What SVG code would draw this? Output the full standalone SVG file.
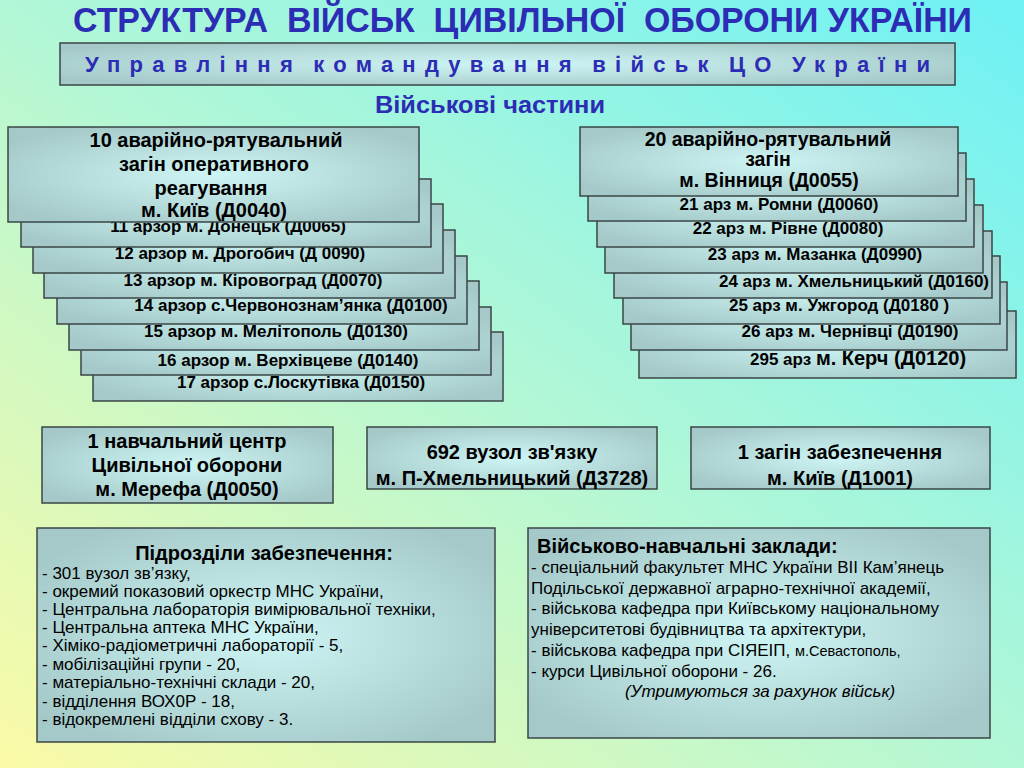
<svg xmlns="http://www.w3.org/2000/svg" width="1024" height="768" viewBox="0 0 1024 768">
<defs>
<linearGradient id="bg" x1="0" y1="1" x2="1" y2="0">
<stop offset="0" stop-color="#fbfaa6"/>
<stop offset="0.5" stop-color="#b2f7d6"/>
<stop offset="1" stop-color="#6ef1f5"/>
</linearGradient>
<radialGradient id="boxg" cx="0.5" cy="0.5" r="0.6">
<stop offset="0" stop-color="#cef5f5"/>
<stop offset="1" stop-color="#a5c9c9"/>
</radialGradient>
<style>
.box{fill:url(#boxg);stroke:#3a4545;stroke-width:1.5}
.t{font-family:"Liberation Sans",Arial,sans-serif;fill:#000}
.b{font-weight:bold}
.s17{font-size:17px}
.s20{font-size:20px}
.m{text-anchor:middle}
.blue{fill:#2c2cb4;font-family:"Liberation Sans",Arial,sans-serif;font-weight:bold}
.li{font-family:"Liberation Sans",Arial,sans-serif;font-size:17px;fill:#000}
</style>
</defs>
<rect x="0" y="0" width="1024" height="768" fill="url(#bg)"/>

<g id="title">
<text class="blue" x="73" y="32" font-size="35" textLength="899" lengthAdjust="spacingAndGlyphs" xml:space="preserve">СТРУКТУРА  ВІЙСЬК  ЦИВІЛЬНОЇ  ОБОРОНИ УКРАЇНИ</text>
</g>

<g id="command">
<rect class="box" x="60" y="43" width="895" height="42"/>
<text class="blue" x="85" y="72" font-size="22" fill="#1e1ec0" word-spacing="-4" textLength="845" lengthAdjust="spacing">Управління командування військ ЦО України</text>
</g>

<g id="units-label">
<text class="blue" x="375" y="113" font-size="24" textLength="230" lengthAdjust="spacingAndGlyphs">Військові частини</text>
</g>

<g id="left-stack">
<g id="n17"><rect class="box" x="93" y="332" width="410" height="69"/><text class="t b s17 m" x="301" y="388">17 арзор с.Лоскутівка (Д0150)</text></g>
<g id="n16"><rect class="box" x="81" y="307" width="410" height="68"/><text class="t b s17 m" x="288" y="366">16 арзор м. Верхівцеве (Д0140)</text></g>
<g id="n15"><rect class="box" x="69" y="281" width="410" height="69"/><text class="t b s17 m" x="276" y="337">15 арзор м. Мелітополь (Д0130)</text></g>
<g id="n14"><rect class="box" x="57" y="256" width="410" height="68"/><text class="t b s17 m" x="291" y="311">14 арзор с.Червонознам’янка (Д0100)</text></g>
<g id="n13"><rect class="box" x="44" y="230" width="411" height="68"/><text class="t b s17 m" x="253" y="286">13 арзор м. Кіровоград (Д0070)</text></g>
<g id="n12"><rect class="box" x="33" y="204" width="410" height="69"/><text class="t b s17 m" x="240" y="259">12 арзор м. Дрогобич (Д 0090)</text></g>
<g id="n11"><rect class="box" x="21" y="179" width="410" height="68"/><text class="t b s17 m" x="228" y="232">11 арзор м. Донецьк (Д0065)</text></g>
<g id="n10"><rect class="box" x="8" y="127" width="411" height="95"/>
<text class="t b s20 m" x="216" y="147">10 аварійно-рятувальний</text>
<text class="t b s20 m" x="214" y="171">загін оперативного</text>
<text class="t b s20 m" x="211" y="195">реагування</text>
<text class="t b s20 m" x="214" y="217">м. Київ (Д0040)</text></g>
</g>

<g id="right-stack">
<g id="n295"><rect class="box" x="639" y="311" width="377" height="67"/><text class="t b" x="750" y="365"><tspan font-size="17">295 арз </tspan><tspan font-size="20">м. Керч (Д0120)</tspan></text></g>
<g id="n26"><rect class="box" x="631" y="282" width="376" height="68"/><text class="t b s17 m" x="850" y="337">26 арз м. Чернівці (Д0190)</text></g>
<g id="n25"><rect class="box" x="623" y="256" width="377" height="68"/><text class="t b s17 m" x="839" y="311">25 арз м. Ужгород (Д0180 )</text></g>
<g id="n24"><rect class="box" x="614" y="231" width="378" height="67"/><text class="t b s17 m" x="854" y="287">24 арз м. Хмельницький (Д0160)</text></g>
<g id="n23"><rect class="box" x="605" y="205" width="378" height="68"/><text class="t b s17 m" x="815" y="260">23 арз м. Мазанка (Д0990)</text></g>
<g id="n22"><rect class="box" x="597" y="179" width="377" height="68"/><text class="t b s17 m" x="788" y="234">22 арз м. Рівне (Д0080)</text></g>
<g id="n21"><rect class="box" x="588" y="153" width="378" height="68"/><text class="t b s17 m" x="779" y="210">21 арз м. Ромни (Д0060)</text></g>
<g id="n20"><rect class="box" x="580" y="127" width="378" height="69"/>
<text class="t m b" font-size="19.5" x="768" y="146">20 аварійно-рятувальний</text>
<text class="t m b" font-size="19.5" x="768" y="166">загін</text>
<text class="t m b" font-size="19.5" x="769" y="187">м. Вінниця (Д0055)</text></g>
</g>

<g id="n-training-center"><rect class="box" x="42" y="427" width="291" height="76"/>
<text class="t b s20 m" x="187" y="448">1 навчальний центр</text>
<text class="t b s20 m" x="187" y="472">Цивільної оборони</text>
<text class="t b s20 m" x="187" y="496">м. Мерефа (Д0050)</text></g>

<g id="n-comm-node"><rect class="box" x="367" y="427" width="290" height="62"/>
<text class="t b s20 m" x="512" y="459">692 вузол зв'язку</text>
<text class="t b s20 m" x="512" y="485">м. П-Хмельницький (Д3728)</text></g>

<g id="n-supply"><rect class="box" x="691" y="427" width="299" height="62"/>
<text class="t b s20 m" x="840" y="459">1 загін забезпечення</text>
<text class="t b s20 m" x="840" y="485">м. Київ (Д1001)</text></g>

<g id="n-support-units"><rect class="box" x="37" y="528" width="458" height="214"/>
<text class="t b s20 m" x="264" y="560">Підрозділи забезпечення:</text>
<text class="li" x="42" y="579">- 301 вузол зв’язку,</text>
<text class="li" x="42" y="597">- окремий показовий оркестр МНС України,</text>
<text class="li" x="42" y="615">- Центральна лабораторія вимірювальної техніки,</text>
<text class="li" x="42" y="633">- Центральна аптека МНС України,</text>
<text class="li" x="42" y="651">- Хіміко-радіометричні лабораторії - 5,</text>
<text class="li" x="42" y="670">- мобілізаційні групи - 20,</text>
<text class="li" x="42" y="688">- матеріально-технічні склади - 20,</text>
<text class="li" x="42" y="707">- відділення ВОХ0Р - 18,</text>
<text class="li" x="42" y="725">- відокремлені відділи схову - 3.</text>
</g>

<g id="n-education"><rect class="box" x="528" y="528" width="462" height="210"/>
<text class="t b s20" x="537" y="553">Військово-навчальні заклади:</text>
<text class="li" x="531" y="573">- спеціальний факультет МНС України ВІІ Кам’янець</text>
<text class="li" x="531" y="594">Подільської державної аграрно-технічної академії,</text>
<text class="li" x="531" y="614">- військова кафедра при Київському національному</text>
<text class="li" x="531" y="635">університетові будівництва та архітектури,</text>
<text class="li" x="531" y="656">- військова кафедра при СІЯЕІП, <tspan font-size="14.5">м.Севастополь,</tspan></text>
<text class="li" x="531" y="677">- курси Цивільної оборони - 26.</text>
<text class="li" x="760" y="697" font-style="italic" text-anchor="middle">(Утримуються за рахунок військ)</text>
</g>

<g id="connectors"/>
</svg>
